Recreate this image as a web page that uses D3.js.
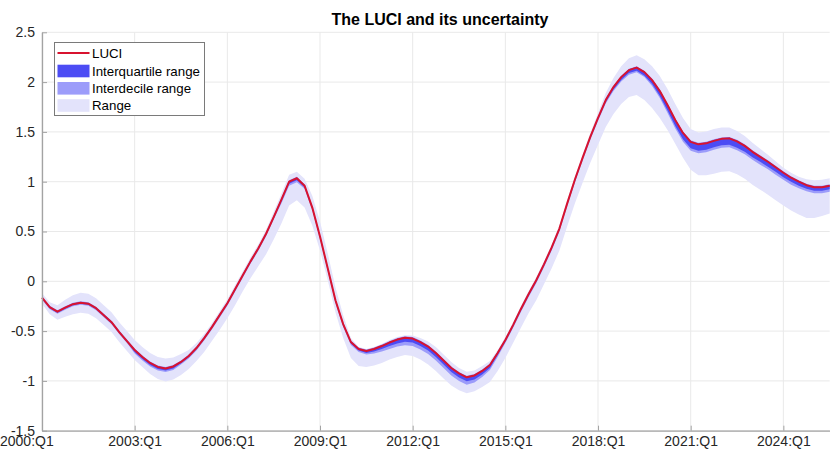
<!DOCTYPE html>
<html>
<head>
<meta charset="utf-8">
<script src="https://cdn.jsdelivr.net/npm/d3@7"></script>
<style>
  html, body { margin: 0; padding: 0; background: #fff; }
  svg { display: block; font-family: "Liberation Sans", Arial, Helvetica, sans-serif; }
</style>
</head>
<body>
<svg id="chart" width="830" height="452"></svg>
<script>
// Quarterly observations, 2000:Q1 .. 2025:Q3
const startYear = 2000;

const luci = [
  -0.165, -0.26, -0.305, -0.265, -0.23, -0.215, -0.225, -0.27, -0.34, -0.41,
  -0.51, -0.60, -0.69, -0.76, -0.82, -0.86, -0.875, -0.855, -0.81, -0.75,
  -0.67, -0.57, -0.46, -0.34, -0.22, -0.08, 0.06, 0.20, 0.33, 0.475,
  0.645, 0.82, 1.00, 1.035, 0.96, 0.74, 0.45, 0.13, -0.19, -0.43,
  -0.61, -0.68, -0.70, -0.68, -0.65, -0.615, -0.585, -0.566, -0.575, -0.61,
  -0.655, -0.72, -0.795, -0.87, -0.925, -0.964, -0.945, -0.90, -0.84, -0.72,
  -0.59, -0.44, -0.28, -0.13, 0.01, 0.17, 0.34, 0.53, 0.78, 1.02,
  1.24, 1.45, 1.64, 1.82, 1.95, 2.05, 2.12, 2.145, 2.10, 2.02,
  1.91, 1.77, 1.62, 1.49, 1.40, 1.375, 1.385, 1.41, 1.43, 1.435,
  1.405, 1.36, 1.30, 1.25, 1.20, 1.145, 1.09, 1.04, 1.00, 0.965,
  0.945, 0.945, 0.96
];

// 25th / 75th percentiles
const iqrLow = [
  -0.175, -0.27, -0.315, -0.275, -0.24, -0.225, -0.235, -0.28, -0.35, -0.42,
  -0.52, -0.61, -0.71, -0.78, -0.84, -0.88, -0.895, -0.875, -0.822, -0.762,
  -0.682, -0.582, -0.472, -0.352, -0.232, -0.092, 0.048, 0.188, 0.318, 0.463,
  0.63, 0.80, 0.98, 1.015, 0.945, 0.725, 0.435, 0.115, -0.205, -0.445,
  -0.625, -0.695, -0.72, -0.705, -0.68, -0.65, -0.625, -0.606, -0.615, -0.65,
  -0.695, -0.76, -0.835, -0.91, -0.965, -1.004, -0.985, -0.935, -0.87, -0.74,
  -0.605, -0.455, -0.295, -0.145, -0.005, 0.155, 0.325, 0.515, 0.765, 1.005,
  1.225, 1.435, 1.625, 1.80, 1.925, 2.022, 2.092, 2.115, 2.065, 1.98,
  1.86, 1.715, 1.56, 1.425, 1.335, 1.31, 1.32, 1.345, 1.365, 1.37,
  1.34, 1.30, 1.245, 1.20, 1.15, 1.10, 1.045, 1.00, 0.96, 0.93,
  0.91, 0.91, 0.925
];
const iqrHigh = [
  -0.157, -0.252, -0.297, -0.257, -0.222, -0.207, -0.217, -0.262, -0.332, -0.402,
  -0.502, -0.592, -0.682, -0.752, -0.812, -0.852, -0.867, -0.847, -0.802, -0.742,
  -0.662, -0.562, -0.452, -0.332, -0.212, -0.072, 0.068, 0.208, 0.338, 0.483,
  0.653, 0.828, 1.008, 1.043, 0.968, 0.748, 0.458, 0.138, -0.182, -0.422,
  -0.602, -0.672, -0.692, -0.672, -0.642, -0.607, -0.577, -0.558, -0.567, -0.602,
  -0.647, -0.712, -0.787, -0.862, -0.917, -0.956, -0.937, -0.892, -0.832, -0.712,
  -0.582, -0.432, -0.272, -0.122, 0.018, 0.178, 0.348, 0.538, 0.788, 1.028,
  1.248, 1.458, 1.648, 1.828, 1.958, 2.058, 2.128, 2.153, 2.108, 2.028,
  1.918, 1.778, 1.628, 1.498, 1.408, 1.383, 1.393, 1.418, 1.438, 1.443,
  1.413, 1.368, 1.308, 1.258, 1.208, 1.153, 1.098, 1.048, 1.008, 0.973,
  0.953, 0.953, 0.968
];

// 10th / 90th percentiles
const idrLow = [
  -0.185, -0.28, -0.325, -0.285, -0.25, -0.235, -0.245, -0.29, -0.36, -0.43,
  -0.53, -0.62, -0.725, -0.795, -0.855, -0.895, -0.91, -0.89, -0.835, -0.775,
  -0.695, -0.595, -0.485, -0.365, -0.245, -0.105, 0.035, 0.175, 0.305, 0.45,
  0.62, 0.78, 0.96, 0.995, 0.93, 0.71, 0.42, 0.10, -0.22, -0.46,
  -0.64, -0.71, -0.735, -0.725, -0.705, -0.68, -0.655, -0.641, -0.65, -0.685,
  -0.73, -0.795, -0.87, -0.945, -1.00, -1.039, -1.015, -0.96, -0.89, -0.76,
  -0.62, -0.47, -0.31, -0.16, -0.02, 0.14, 0.31, 0.50, 0.75, 0.99,
  1.21, 1.42, 1.61, 1.785, 1.91, 2.005, 2.075, 2.10, 2.05, 1.96,
  1.84, 1.69, 1.535, 1.40, 1.31, 1.285, 1.295, 1.32, 1.34, 1.345,
  1.315, 1.275, 1.22, 1.17, 1.125, 1.07, 1.02, 0.97, 0.935, 0.905,
  0.885, 0.885, 0.90
];
const idrHigh = [
  -0.15, -0.245, -0.29, -0.25, -0.215, -0.2, -0.21, -0.255, -0.325, -0.395,
  -0.495, -0.585, -0.675, -0.745, -0.805, -0.845, -0.86, -0.84, -0.795, -0.735,
  -0.655, -0.555, -0.445, -0.325, -0.205, -0.065, 0.075, 0.215, 0.345, 0.49,
  0.66, 0.835, 1.015, 1.05, 0.975, 0.755, 0.465, 0.145, -0.175, -0.415,
  -0.595, -0.665, -0.685, -0.665, -0.635, -0.6, -0.57, -0.551, -0.56, -0.595,
  -0.64, -0.705, -0.78, -0.855, -0.91, -0.949, -0.93, -0.885, -0.825, -0.705,
  -0.575, -0.425, -0.265, -0.115, 0.025, 0.185, 0.355, 0.545, 0.795, 1.035,
  1.255, 1.465, 1.655, 1.835, 1.965, 2.065, 2.135, 2.16, 2.115, 2.035,
  1.925, 1.785, 1.635, 1.505, 1.415, 1.39, 1.4, 1.425, 1.445, 1.45,
  1.42, 1.375, 1.315, 1.265, 1.215, 1.16, 1.105, 1.055, 1.015, 0.98,
  0.96, 0.96, 0.975
];

// Minimum / maximum across all estimates
const rangeLow = [
  -0.225, -0.33, -0.385, -0.355, -0.33, -0.315, -0.325, -0.37, -0.44, -0.51,
  -0.61, -0.70, -0.79, -0.86, -0.93, -0.98, -1.005, -0.985, -0.94, -0.88,
  -0.80, -0.71, -0.60, -0.49, -0.37, -0.24, -0.10, 0.03, 0.15, 0.27,
  0.42, 0.58, 0.76, 0.815, 0.74, 0.56, 0.31, 0.01, -0.31, -0.57,
  -0.77, -0.85, -0.86, -0.845, -0.82, -0.785, -0.76, -0.741, -0.75, -0.785,
  -0.835, -0.90, -0.975, -1.045, -1.095, -1.124, -1.105, -1.06, -1.01, -0.90,
  -0.77, -0.62, -0.47, -0.32, -0.19, -0.03, 0.13, 0.31, 0.55, 0.78,
  0.99, 1.19, 1.37, 1.55, 1.68, 1.78, 1.85, 1.87, 1.82, 1.74,
  1.64, 1.52, 1.38, 1.24, 1.12, 1.065, 1.065, 1.08, 1.10, 1.105,
  1.075, 1.03, 0.97, 0.92, 0.87, 0.815, 0.76, 0.71, 0.67, 0.635,
  0.635, 0.655, 0.68
];
const rangeHigh = [
  -0.12, -0.21, -0.24, -0.185, -0.14, -0.115, -0.125, -0.17, -0.24, -0.31,
  -0.41, -0.50, -0.59, -0.66, -0.72, -0.76, -0.775, -0.765, -0.73, -0.69,
  -0.62, -0.53, -0.42, -0.30, -0.18, -0.04, 0.10, 0.24, 0.37, 0.515,
  0.695, 0.88, 1.07, 1.10, 1.03, 0.86, 0.60, 0.28, -0.06, -0.34,
  -0.57, -0.66, -0.68, -0.66, -0.63, -0.59, -0.56, -0.541, -0.545, -0.57,
  -0.605, -0.66, -0.735, -0.81, -0.87, -0.909, -0.895, -0.85, -0.80, -0.69,
  -0.56, -0.41, -0.25, -0.10, 0.04, 0.20, 0.37, 0.56, 0.81, 1.05,
  1.27, 1.49, 1.69, 1.89, 2.04, 2.16, 2.24, 2.27, 2.23, 2.16,
  2.06, 1.93, 1.78, 1.64, 1.53, 1.495, 1.505, 1.53, 1.545, 1.545,
  1.51, 1.46, 1.39, 1.33, 1.27, 1.205, 1.14, 1.09, 1.05, 1.025,
  1.015, 1.02, 1.035
];

const xTickIdx = [0, 12, 24, 36, 48, 60, 72, 84, 96];
const xTickLabels = ["2000:Q1", "2003:Q1", "2006:Q1", "2009:Q1", "2012:Q1",
                     "2015:Q1", "2018:Q1", "2021:Q1", "2024:Q1"];
const yTicks = [-1.5, -1, -0.5, 0, 0.5, 1, 1.5, 2, 2.5];

const legendItems = ["LUCI", "Interquartile range", "Interdecile range", "Range"];

const colors = {
  line: "#d8132f",
  iqr: "#4c4cf4",
  idr: "#9c9cfa",
  range: "#e3e3fb",
  grid: "#e9e9e9",
  axis: "#a3a3a3",
  text: "#262626"
};

// Build one record per quarter
const quarters = luci.map((v, i) => ({
  i,
  label: `${startYear + Math.floor(i / 4)}:Q${(i % 4) + 1}`,
  luci: v,
  iqrLow: iqrLow[i], iqrHigh: iqrHigh[i],
  idrLow: idrLow[i], idrHigh: idrHigh[i],
  rangeLow: rangeLow[i], rangeHigh: rangeHigh[i]
}));

const svg = d3.select("#chart");
const margin = { left: 42, right: 0.3, top: 32.3, bottom: 21.3 };
const W = 830, H = 452;

const x = d3.scaleLinear().domain([0, luci.length - 1]).range([margin.left, W - margin.right]);
const y = d3.scaleLinear().domain([-1.5, 2.5]).range([H - margin.bottom, margin.top]);

// Grid
const grid = svg.append("g");
grid.selectAll("line.gy").data(yTicks).join("line")
  .attr("x1", x.range()[0]).attr("x2", x.range()[1])
  .attr("y1", d => y(d)).attr("y2", d => y(d))
  .attr("stroke", colors.grid).attr("stroke-width", 1);
grid.selectAll("line.gx").data(xTickIdx).join("line")
  .attr("x1", d => x(d)).attr("x2", d => x(d))
  .attr("y1", y.range()[0]).attr("y2", y.range()[1])
  .attr("stroke", colors.grid).attr("stroke-width", 1);

// Uncertainty bands
const band = (lo, hi) => d3.area()
  .x(d => x(d.i))
  .y0(d => y(d[lo]))
  .y1(d => y(d[hi]));

svg.append("path").datum(quarters)
  .attr("d", band("rangeLow", "rangeHigh")).attr("fill", colors.range);
svg.append("path").datum(quarters)
  .attr("d", band("idrLow", "idrHigh")).attr("fill", colors.idr);
svg.append("path").datum(quarters)
  .attr("d", band("iqrLow", "iqrHigh")).attr("fill", colors.iqr);

// LUCI line
svg.append("path").datum(quarters)
  .attr("d", d3.line().x(d => x(d.i)).y(d => y(d.luci)))
  .attr("fill", "none").attr("stroke", colors.line)
  .attr("stroke-width", 2).attr("stroke-linejoin", "round");

// Axes
const yAxis = d3.axisLeft(y).tickValues(yTicks).tickFormat(d => String(d))
  .tickSizeInner(-5).tickSizeOuter(0).tickPadding(7);
const xAxis = d3.axisBottom(x).tickValues(xTickIdx)
  .tickFormat((d, k) => xTickLabels[k])
  .tickSizeInner(-5).tickSizeOuter(0).tickPadding(5);

const gy = svg.append("g").attr("transform", `translate(${margin.left},0)`).call(yAxis);
const gx = svg.append("g").attr("transform", `translate(0,${H - margin.bottom})`).call(xAxis);

[gx, gy].forEach(g => {
  g.select(".domain").attr("stroke", colors.axis).attr("stroke-width", 1.3);
  g.selectAll(".tick line").attr("stroke", colors.axis).attr("stroke-width", 1);
  g.selectAll(".tick text").attr("fill", colors.text)
    .style("font-size", "14px").style("font-family", "Liberation Sans, Arial, sans-serif");
});

// The first date label sits flush with the left edge, clear of the y labels
gx.selectAll(".tick text").filter((d, k) => k === 0)
  .attr("text-anchor", "start")
  .attr("x", -margin.left - 0.5);

// Title
svg.append("text")
  .attr("x", 440).attr("y", 25)
  .attr("text-anchor", "middle")
  .attr("fill", "#000")
  .style("font-size", "16px").style("font-weight", "bold")
  .text("The LUCI and its uncertainty");

// Legend
const lg = svg.append("g").attr("transform", "translate(54.5,42.5)");
lg.append("rect").attr("width", 150).attr("height", 73)
  .attr("fill", "#fff").attr("stroke", "#7a7a7a").attr("stroke-width", 1);
const rowY = [10.5, 28.5, 45.8, 63];
const swatchFill = [null, colors.iqr, colors.idr, colors.range];
legendItems.forEach((name, k) => {
  const row = lg.append("g").attr("transform", `translate(0,${rowY[k]})`);
  if (k === 0) {
    row.append("line").attr("x1", 3).attr("x2", 35).attr("y1", 0).attr("y2", 0)
      .attr("stroke", colors.line).attr("stroke-width", 2);
  } else {
    row.append("rect").attr("x", 3).attr("y", -6.3).attr("width", 32).attr("height", 12.6)
      .attr("fill", swatchFill[k]);
  }
  row.append("text").attr("x", 37.5).attr("y", 0).attr("dy", "0.35em")
    .attr("fill", "#000").style("font-size", "13.3px").text(name);
});
</script>
</body>
</html>
